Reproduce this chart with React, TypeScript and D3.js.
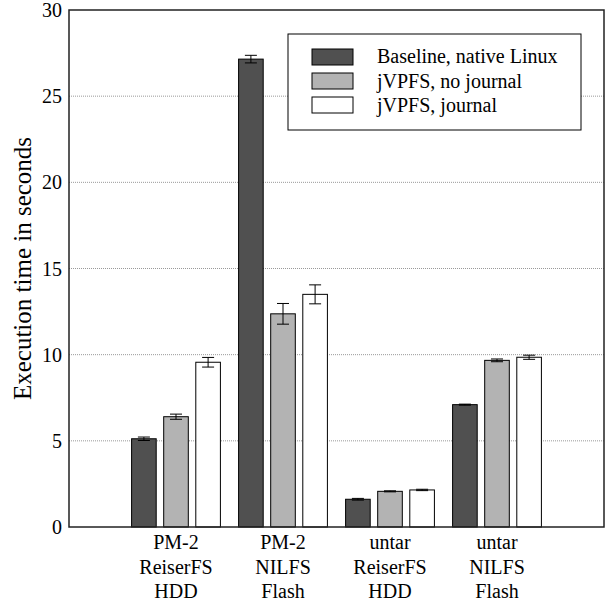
import React from "react";
import * as d3 from "d3";

const categories: string[][] = [
  ["PM-2", "ReiserFS", "HDD"],
  ["PM-2", "NILFS", "Flash"],
  ["untar", "ReiserFS", "HDD"],
  ["untar", "NILFS", "Flash"],
];
const seriesNames = ["Baseline, native Linux", "jVPFS, no journal", "jVPFS, journal"];
const seriesColors = ["#505050", "#b3b3b3", "#ffffff"];
const baseline = [5.12, 27.15, 1.61, 7.1];
const baselineErr = [0.1, 0.22, 0.05, 0.03];
const noJournal = [6.4, 12.37, 2.07, 9.67];
const noJournalErr = [0.15, 0.6, 0.03, 0.08];
const journal = [9.56, 13.5, 2.15, 9.85];
const journalErr = [0.28, 0.55, 0.04, 0.12];
const yTicks = [0, 5, 10, 15, 20, 25, 30];

const W = 606;
const H = 602;
const left = 69;
const right = 604;
const top = 10;
const bottom = 527;
const FONT = "'Liberation Serif', 'Times New Roman', serif";

export default function App() {
  const x = d3.scaleLinear().domain([0, 5]).range([left, right]);
  const y = d3.scaleLinear().domain([0, 30]).range([bottom, top]);
  const values = [baseline, noJournal, journal];
  const errs = [baselineErr, noJournalErr, journalErr];
  const offsets = [-0.3, 0, 0.3];
  const barW = x(0.23) - x(0);
  const capW = 12;

  return (
    <svg width={W} height={H} style={{ position: "absolute", left: 0, top: 0 }} fontFamily={FONT}>
      <rect x={0} y={0} width={W} height={H} fill="#fff" />
      {yTicks.filter((t) => t > 0 && t < 30).map((t) => (
        <line key={"g" + t} x1={left} x2={right} y1={y(t)} y2={y(t)} stroke="#999" strokeWidth={1} strokeDasharray="1,1" />
      ))}
      {values.map((vals, s) =>
        vals.map((v, i) => {
          const cx = x(i + 1 + offsets[s]);
          const e = errs[s][i];
          return (
            <g key={s + "-" + i}>
              <rect x={cx - barW / 2} y={y(v)} width={barW} height={y(0) - y(v)} fill={seriesColors[s]} stroke="#000" strokeWidth={1} />
              <line x1={cx} x2={cx} y1={y(v - e)} y2={y(v + e)} stroke="#000" strokeWidth={1} />
              <line x1={cx - capW / 2} x2={cx + capW / 2} y1={y(v + e)} y2={y(v + e)} stroke="#000" strokeWidth={1} />
              <line x1={cx - capW / 2} x2={cx + capW / 2} y1={y(v - e)} y2={y(v - e)} stroke="#000" strokeWidth={1} />
            </g>
          );
        })
      )}
      <rect x={left} y={top} width={right - left} height={bottom - top} fill="none" stroke="#222" strokeWidth={1.5} />
      {yTicks.map((t) => (
        <text key={"t" + t} x={62} y={y(t) + 7} textAnchor="end" fontSize={20} fill="#000">
          {t}
        </text>
      ))}
      {categories.map((lines, i) => (
        <text key={"c" + i} x={x(i + 1)} textAnchor="middle" fontSize={20} fill="#000">
          {lines.map((l, j) => (
            <tspan key={j} x={x(i + 1)} y={549 + j * 24.5}>
              {l}
            </tspan>
          ))}
        </text>
      ))}
      <text transform={`translate(31,${(top + bottom) / 2}) rotate(-90)`} textAnchor="middle" fontSize={25} fill="#000">
        Execution time in seconds
      </text>
      <g>
        <rect x={288} y={34} width={293} height={96} fill="#fff" stroke="#000" strokeWidth={1} />
        {seriesNames.map((n, i) => (
          <g key={"l" + i}>
            <rect x={312} y={49 + i * 24} width={41} height={16} fill={seriesColors[i]} stroke="#000" strokeWidth={1} />
            <text x={377} y={63 + i * 24.5} fontSize={20} fill="#000">
              {n}
            </text>
          </g>
        ))}
      </g>
    </svg>
  );
}
